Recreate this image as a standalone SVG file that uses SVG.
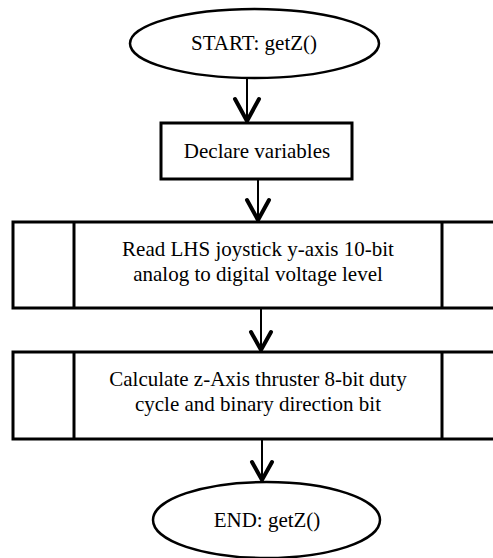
<svg xmlns="http://www.w3.org/2000/svg" width="493" height="558" viewBox="0 0 493 558">
  <style>
    .shape { fill: #ffffff; stroke: #000000; stroke-width: 3; }
    .term { fill: #ffffff; stroke: #000000; stroke-width: 2.5; }
    .label { font-size: 21px; fill: #000000; text-anchor: middle; }
    .wire { stroke: #000000; stroke-width: 2; fill: none; }
    .head { stroke: #000000; stroke-width: 4; fill: none; stroke-linecap: round; stroke-linejoin: miter; }
  </style>
  <rect width="493" height="558" fill="#ffffff"/>

  <g id="connectors">
    <path class="wire" d="M247 78 V121"/>
    <path class="head" d="M235 99 L247 121 L259 99"/>
    <path class="wire" d="M258 179 V220"/>
    <path class="head" d="M247 200 L258 220 L269 200"/>
    <path class="wire" d="M261 308 V350"/>
    <path class="head" d="M251 332 L261 350 L271 332"/>
    <path class="wire" d="M262 439 V480"/>
    <path class="head" d="M252 462 L262 480 L272 462"/>
  </g>

  <g font-family="'Liberation Serif', 'DejaVu Serif', serif">
    <g id="start">
      <ellipse class="term" cx="254.5" cy="43.5" rx="124.5" ry="34.5"/>
      <text class="label" x="254" y="50">START: getZ()</text>
    </g>

    <g id="declare">
      <rect class="shape" x="161" y="123" width="191" height="56"/>
      <text class="label" x="257" y="158">Declare variables</text>
    </g>

    <g id="read-joystick">
      <rect class="shape" x="13" y="222" width="490" height="86"/>
      <line class="shape" x1="74" y1="222" x2="74" y2="308"/>
      <line class="shape" x1="442" y1="222" x2="442" y2="308"/>
      <text class="label" x="258" y="256">Read LHS joystick y-axis 10-bit</text>
      <text class="label" x="258" y="281">analog to digital voltage level</text>
    </g>

    <g id="calc-duty">
      <rect class="shape" x="13" y="352" width="490" height="87"/>
      <line class="shape" x1="74" y1="352" x2="74" y2="439"/>
      <line class="shape" x1="442" y1="352" x2="442" y2="439"/>
      <text class="label" x="258" y="386">Calculate z-Axis thruster 8-bit duty</text>
      <text class="label" x="258" y="411">cycle and binary direction bit</text>
    </g>

    <g id="end">
      <ellipse class="term" cx="266.5" cy="520" rx="113.5" ry="38"/>
      <text class="label" x="267" y="527">END: getZ()</text>
    </g>
  </g>
</svg>
